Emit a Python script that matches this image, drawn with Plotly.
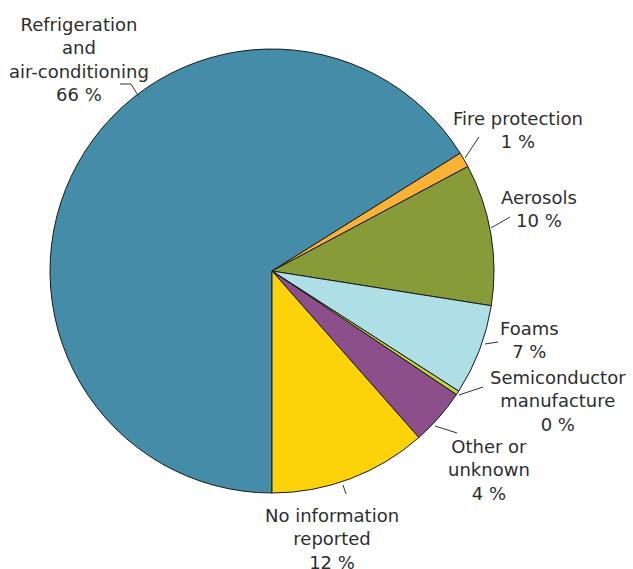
import plotly.graph_objects as go

W, H = 633, 569

# Shares of emissions by application (per cent)
sectors = [
    "Refrigeration<br>and<br>air-conditioning",
    "Fire protection",
    "Aerosols",
    "Foams",
    "Semiconductor<br>manufacture",
    "Other or<br>unknown",
    "No information<br>reported",
]
shares = [66.1, 1.1, 10.3, 6.6, 0.3, 4.1, 11.5]
colors = ["#448ca7", "#f9b234", "#879b38", "#aedfe7", "#c2d43a", "#8d4f8c", "#fcd309"]

# label centres (px) and leader-line polylines (px), in sector order
label_pos = [(79, 59), (518, 130), (539, 209), (529, 340), (558, 401), (489, 470), (332, 539)]
leaders = [
    [(120, 84), (131, 84), (139, 97)],
    [(479, 137), (465, 158)],
    [(510, 217), (491, 228)],
    [(498, 342), (485, 344)],
    [(483, 387), (459, 395)],
    [(457, 433), (435, 426)],
    [(346, 494), (343, 485)],
]

cx, cy, r = 272, 271, 222


def px(x, y):
    return x / W, 1 - y / H


fig = go.Figure(
    go.Pie(
        labels=sectors,
        values=shares,
        sort=False,
        direction="clockwise",
        rotation=180,
        textinfo="none",
        hoverinfo="label+percent",
        marker=dict(colors=colors, line=dict(color="#1a1a1a", width=1)),
        domain=dict(x=[(cx - r) / W, (cx + r) / W], y=[1 - (cy + r) / H, 1 - (cy - r) / H]),
        showlegend=False,
    )
)

annotations = []
for name, v, (lx, ly) in zip(sectors, shares, label_pos):
    x, y = px(lx, ly)
    annotations.append(
        dict(
            x=x, y=y, xref="paper", yref="paper",
            text=f"{name}<br>{int(v + 0.5)} %",
            showarrow=False, xanchor="center", yanchor="middle", align="center",
            font=dict(family="DejaVu Sans", size=18, color="#2e2e2e"),
        )
    )

shapes = []
for pts in leaders:
    path = ""
    for i, (x, y) in enumerate(pts):
        X, Y = px(x, y)
        path += ("M" if i == 0 else " L") + f" {X:.5f} {Y:.5f}"
    shapes.append(dict(type="path", path=path, xref="paper", yref="paper",
                       line=dict(color="#333333", width=1)))

fig.update_layout(
    width=W, height=H,
    margin=dict(l=0, r=0, t=0, b=0),
    paper_bgcolor="white",
    plot_bgcolor="white",
    annotations=annotations,
    shapes=shapes,
)

fig.write_html("out.html")
